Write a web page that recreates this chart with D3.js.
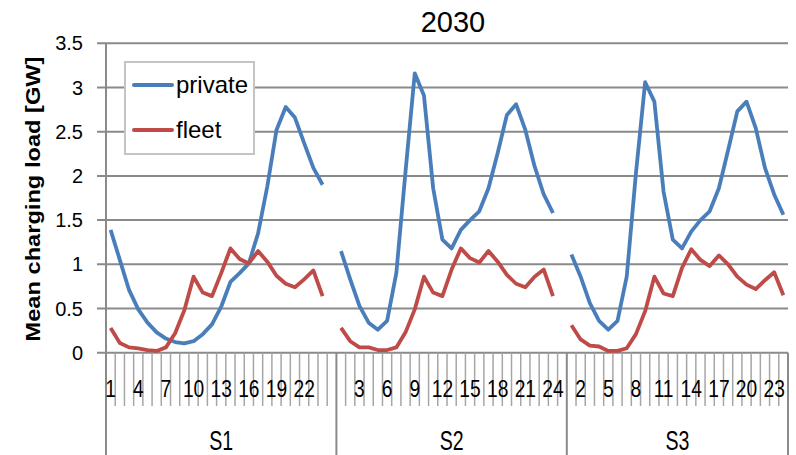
<!DOCTYPE html>
<html>
<head>
<meta charset="utf-8">
<script src="https://cdn.jsdelivr.net/npm/d3@7"></script>
<style>
  body { margin: 0; background: #fff; }
  text { font-family: "Liberation Sans", Arial, sans-serif; fill: #000; }
</style>
</head>
<body>
<svg id="chart" width="796" height="455"></svg>
<script>
// scenarios and hours on the category axis
const scenarios = ['S1', 'S2', 'S3'];
const hours = d3.range(1, 25);
const yTicks = [0, 0.5, 1, 1.5, 2, 2.5, 3, 3.5];

// mean charging load [GW], one array per scenario
const privateS1 = [1.39, 1.05, 0.71, 0.49, 0.34, 0.23, 0.16, 0.12, 0.105, 0.13, 0.21, 0.32,
                   0.52, 0.80, 0.90, 1.01, 1.35, 1.88, 2.52, 2.78, 2.66, 2.37, 2.09, 1.90];
const privateS2 = [1.15, 0.83, 0.53, 0.34, 0.26, 0.36, 0.90, 2.05, 3.16, 2.91, 1.86, 1.28,
                   1.18, 1.39, 1.50, 1.60, 1.86, 2.26, 2.69, 2.81, 2.52, 2.11, 1.79, 1.58];
const privateS3 = [1.11, 0.86, 0.56, 0.36, 0.26, 0.36, 0.86, 2.03, 3.06, 2.84, 1.82, 1.28,
                   1.18, 1.37, 1.50, 1.60, 1.86, 2.29, 2.73, 2.84, 2.54, 2.09, 1.79, 1.56];
const fleetS1 = [0.28, 0.11, 0.06, 0.05, 0.03, 0.02, 0.06, 0.22, 0.48, 0.86, 0.68, 0.64,
                 0.90, 1.18, 1.06, 1.01, 1.15, 1.03, 0.87, 0.78, 0.74, 0.83, 0.93, 0.64];
const fleetS2 = [0.28, 0.13, 0.06, 0.06, 0.03, 0.03, 0.06, 0.23, 0.49, 0.86, 0.68, 0.64,
                 0.94, 1.18, 1.07, 1.02, 1.15, 1.03, 0.88, 0.78, 0.74, 0.86, 0.94, 0.64];
const fleetS3 = [0.31, 0.15, 0.08, 0.07, 0.02, 0.02, 0.05, 0.21, 0.47, 0.86, 0.67, 0.64,
                 0.96, 1.17, 1.05, 0.98, 1.10, 1.00, 0.86, 0.77, 0.72, 0.82, 0.91, 0.65];

const series = [
  {name: 'private', color: '#4a7ebb', values: [privateS1, privateS2, privateS3]},
  {name: 'fleet', color: '#be4b48', values: [fleetS1, fleetS2, fleetS3]}
];

// the category axis: 24 hours per scenario, with an empty slot after S1 and S2
let cats = [];
scenarios.forEach((s, si) => {
  hours.forEach(h => cats.push({key: s + '-' + h, s: si, h: h}));
  if (si < scenarios.length - 1) cats.push({key: s + '-gap', s: si, h: null});
});
cats.forEach((c, i) => c.idx = i);

const svg = d3.select('#chart');
const plotL = 106, plotR = 788, plotT = 43.3, plotB = 352.7;

const x = d3.scaleBand().domain(cats.map(c => c.key)).range([plotL, plotR]);
const y = d3.scaleLinear().domain([0, 3.5]).range([plotB, plotT]);

// gridlines + y ticks
svg.append('g').selectAll('line')
  .data(yTicks)
  .enter().append('line')
  .attr('x1', plotL - 9).attr('x2', plotR)
  .attr('y1', d => y(d)).attr('y2', d => y(d))
  .attr('stroke', '#8a8a8a').attr('stroke-width', 2);

svg.append('g').selectAll('text')
  .data(yTicks)
  .enter().append('text')
  .attr('x', 83).attr('y', d => y(d) + 7)
  .attr('text-anchor', 'end')
  .style('font-size', '20px')
  .text(d => d);

// y axis line down through the category area
svg.append('line')
  .attr('x1', plotL).attr('x2', plotL).attr('y1', plotT).attr('y2', 455)
  .attr('stroke', '#8a8a8a').attr('stroke-width', 2);

// category ticks between every slot
const bounds = d3.range(cats.length + 1);
const groupBounds = [0];
scenarios.forEach((s, si) => {
  groupBounds.push(d3.max(cats.filter(c => c.s === si), c => c.idx) + 1);
});

svg.append('g').selectAll('line')
  .data(bounds.filter(b => !groupBounds.includes(b)))
  .enter().append('line')
  .attr('x1', b => plotL + b * x.step()).attr('x2', b => plotL + b * x.step())
  .attr('y1', plotB).attr('y2', 406)
  .attr('stroke', '#a6a6a6').attr('stroke-width', 1.5);

svg.append('g').selectAll('line')
  .data(groupBounds)
  .enter().append('line')
  .attr('x1', b => plotL + b * x.step()).attr('x2', b => plotL + b * x.step())
  .attr('y1', plotB).attr('y2', 455)
  .attr('stroke', '#8a8a8a').attr('stroke-width', 2);

// hour labels, every third slot
svg.append('g').selectAll('text')
  .data(cats.filter(c => c.idx % 3 === 0 && c.h !== null))
  .enter().append('text')
  .attr('transform', c => `translate(${x(c.key) + x.bandwidth() / 2},397) scale(0.8,1)`)
  .attr('text-anchor', 'middle')
  .style('font-size', '24px')
  .text(c => c.h);

// scenario labels
svg.append('g').selectAll('text')
  .data(scenarios)
  .enter().append('text')
  .attr('transform', (s, i) => {
    let cx = plotL + (groupBounds[i] + groupBounds[i + 1]) / 2 * x.step();
    return `translate(${cx},450) scale(0.7,1)`;
  })
  .attr('text-anchor', 'middle')
  .style('font-size', '28px')
  .text(s => s);

// lines, broken at the empty slots
const line = d3.line()
  .defined(d => d.v != null)
  .x(d => x(d.key) + x.bandwidth() / 2)
  .y(d => y(d.v));

series.forEach(ser => {
  let pts = cats.map(c => ({key: c.key, v: c.h === null ? null : ser.values[c.s][c.h - 1]}));
  svg.append('path')
    .datum(pts)
    .attr('d', line)
    .attr('fill', 'none')
    .attr('stroke', ser.color)
    .attr('stroke-width', 3.8)
    .attr('stroke-linejoin', 'round');
});

// legend
const lg = svg.append('g');
lg.append('rect')
  .attr('x', 125).attr('y', 62).attr('width', 129).attr('height', 92)
  .attr('fill', '#fff').attr('stroke', '#c4c4c4').attr('stroke-width', 2);
series.forEach((ser, i) => {
  let ly = 85 + i * 45;
  lg.append('line')
    .attr('x1', 134).attr('x2', 172).attr('y1', ly).attr('y2', ly)
    .attr('stroke', ser.color).attr('stroke-width', 4).attr('stroke-linecap', 'round');
  lg.append('text')
    .attr('x', 176).attr('y', ly + 8)
    .style('font-size', '24px')
    .text(ser.name);
});

// title and y label
svg.append('text')
  .attr('x', 453).attr('y', 32)
  .attr('text-anchor', 'middle')
  .style('font-size', '29px')
  .text('2030');

svg.append('text')
  .attr('transform', 'translate(40,199) rotate(-90)')
  .attr('text-anchor', 'middle')
  .attr('textLength', 285).attr('lengthAdjust', 'spacingAndGlyphs')
  .style('font-size', '20px').style('font-weight', 'bold')
  .text('Mean charging load [GW]');
</script>
</body>
</html>
